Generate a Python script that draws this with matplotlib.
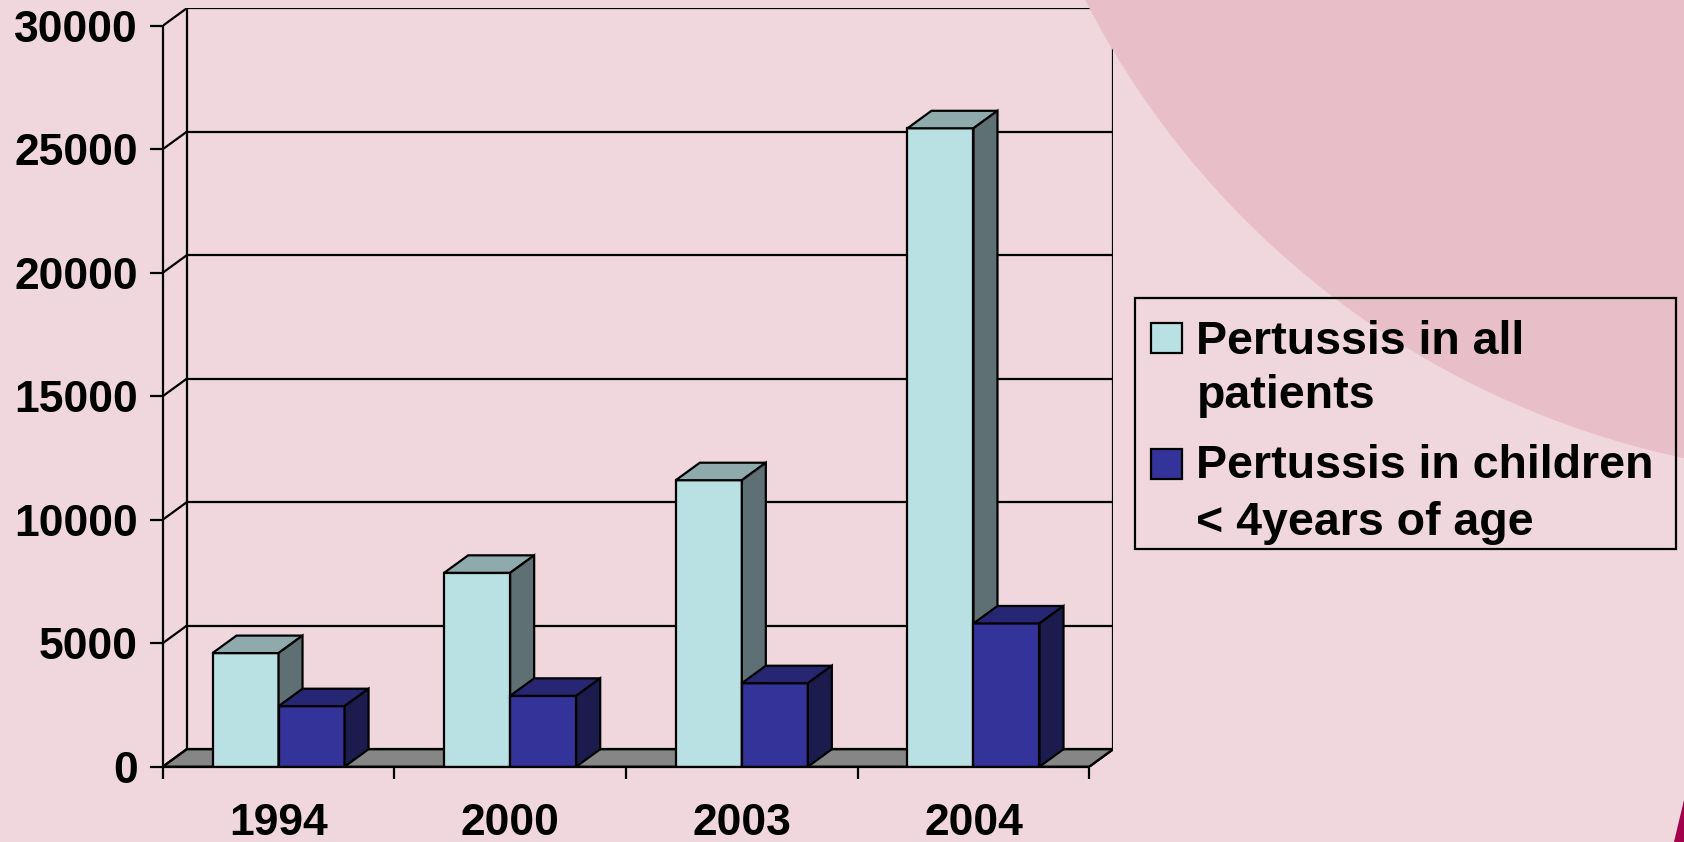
import matplotlib
matplotlib.use("Agg")
import matplotlib.pyplot as plt
from matplotlib.patches import Polygon, Rectangle, Ellipse

years = ["1994", "2000", "2003", "2004"]
all_patients = [4600, 7850, 11600, 25850]
children_under4 = [2450, 2870, 3380, 5800]
series_labels = ["Pertussis in all\npatients", "Pertussis in children\n< 4years of age"]
yticks = [0, 5000, 10000, 15000, 20000, 25000, 30000]

W, H = 1684, 842
BG = "#efd7dd"
CIRCLE = "#e8bfc8"
FLOOR = "#868686"
LIGHT = ("#b9e0e3", "#8faaad", "#5e7073")  # front, top, side
DARK = ("#333399", "#262673", "#1b1b4d")

plt.rcParams["font.family"] = ["Liberation Sans", "DejaVu Sans"]
plt.rcParams["font.weight"] = "bold"

fig = plt.figure(figsize=(W / 100, H / 100), dpi=100, facecolor=BG)


def px(x, y):
    # pixel (from top-left) -> figure fraction
    return x / W, (H - y) / H


# background decoration: big circle top right and a sliver bottom right
cx, cy = px(1865, -399)
fig.patches.append(Ellipse((cx, cy), 2 * 876 / W, 2 * 876 / H, transform=fig.transFigure,
                           facecolor=CIRCLE, edgecolor="none", zorder=0))
fig.patches.append(Polygon([px(1684, 800), px(1684, 842), px(1674, 842)], closed=True,
                           transform=fig.transFigure, facecolor="#a3004c", edgecolor="none", zorder=0))

# depth of the 3d box in data units
dx = 24 / 231.65
dy = 17.5 / 123.5 * 5000
top = yticks[-1]
n = len(years)

ax = fig.add_axes([162.7 / W, (H - 766.7) / H, 950.6 / W, 758.4 / H])
ax.set_xlim(0, n + dx)
ax.set_ylim(0, top + dy)
ax.patch.set_alpha(0)

lw = 1.6
# floor
ax.add_patch(Polygon([(0, 0), (n, 0), (n + dx, dy), (dx, dy)], closed=True,
                     facecolor=FLOOR, edgecolor="black", lw=lw, zorder=1))
# back wall gridlines and side wall diagonals
for v in yticks:
    ax.plot([dx, n + dx], [v + dy, v + dy], color="black", lw=lw, zorder=1)
    ax.plot([0, dx], [v, v + dy], color="black", lw=lw, zorder=1)
for xe in (dx, n + dx):
    ax.plot([xe, xe], [dy, top + dy], color="black", lw=lw, zorder=1)
ax.plot([n, n + dx], [0, dy], color="black", lw=lw, zorder=1)

# bars with top and side faces
bw = 0.285
z = 2
for i in range(n):
    for k, (vals, cols) in enumerate(((all_patients, LIGHT), (children_under4, DARK))):
        x0 = i + 0.5 - bw + k * bw
        h = vals[i]
        ax.bar(x0, h, width=bw, align="edge", color=cols[0], edgecolor="black", lw=lw, zorder=z)
        ax.add_patch(Polygon([(x0, h), (x0 + bw, h), (x0 + bw + dx, h + dy), (x0 + dx, h + dy)],
                             closed=True, facecolor=cols[1], edgecolor="black", lw=lw, zorder=z))
        ax.add_patch(Polygon([(x0 + bw, 0), (x0 + bw + dx, dy), (x0 + bw + dx, h + dy), (x0 + bw, h)],
                             closed=True, facecolor=cols[2], edgecolor="black", lw=lw, zorder=z))
        z += 1

# front axes
for s in ("top", "right"):
    ax.spines[s].set_visible(False)
ax.spines["left"].set_bounds(0, top)
ax.spines["bottom"].set_bounds(0, n)
for s in ("left", "bottom"):
    ax.spines[s].set_linewidth(lw)
    ax.spines[s].set_zorder(50)
ax.set_yticks(yticks)
ax.set_yticklabels([str(v) for v in yticks], fontsize=32, fontweight="bold")
ax.tick_params(axis="y", length=9.4, width=lw, pad=8.5)
ax.set_xticks(range(n + 1))
ax.set_xticklabels([])
ax.tick_params(axis="x", which="major", length=8.5, width=lw)
ax.set_xticks([i + 0.5 for i in range(n)], minor=True)
ax.set_xticklabels(years, minor=True, fontsize=32, fontweight="bold")
ax.tick_params(axis="x", which="minor", length=0, pad=26)

# legend box
lx0, ly0 = px(1135, 549)
lx1, ly1 = px(1676, 297.5)
fig.patches.append(Rectangle((lx0, ly0), lx1 - lx0, ly1 - ly0, transform=fig.transFigure,
                             facecolor="none", edgecolor="black", lw=lw, zorder=5))
for label, cols, ytop, baselines in zip(series_labels, (LIGHT, DARK), (323, 449),
                                        ((353.5, 408.5), (478.5, 535))):
    sx, sy = px(1151, ytop + 30)
    fig.patches.append(Rectangle((sx, sy), 31 / W, 30 / H, transform=fig.transFigure,
                                 facecolor=cols[0], edgecolor="black", lw=lw, zorder=6))
    for line, yb in zip(label.split("\n"), baselines):
        tx, ty = px(1196.5, yb)
        fig.text(tx, ty, line, ha="left", va="baseline", fontsize=33.5, fontweight="bold", zorder=6)

fig.savefig("out.png", dpi=100, facecolor=BG)
